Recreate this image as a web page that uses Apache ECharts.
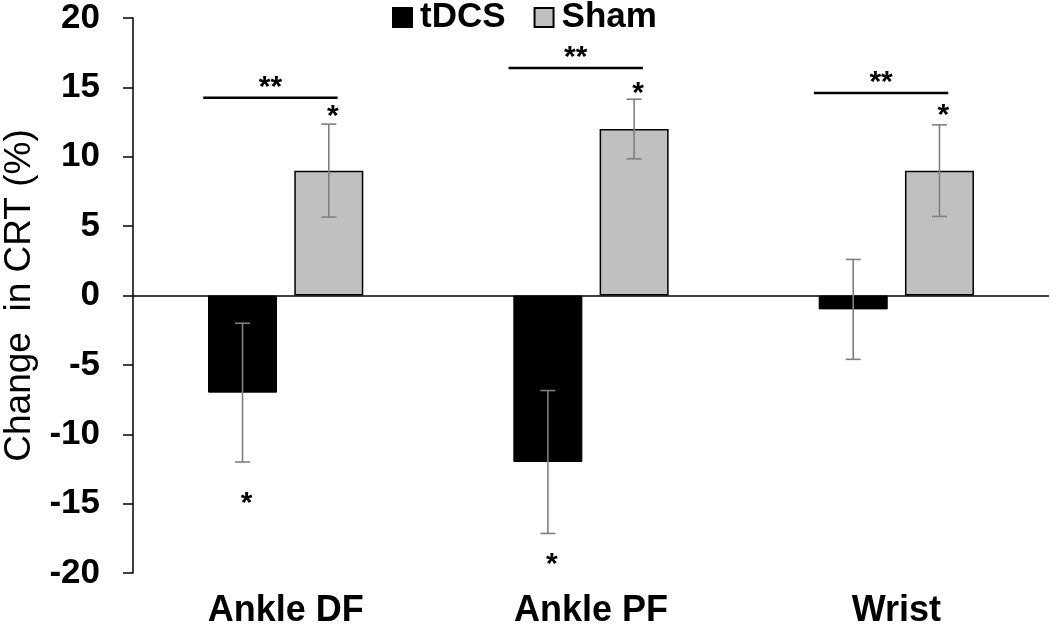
<!DOCTYPE html>
<html>
<head>
<meta charset="utf-8">
<script src="https://cdn.jsdelivr.net/npm/echarts@6/dist/echarts.min.js"></script>
<style>
  html, body { margin: 0; padding: 0; background: #fff; }
  #chart { width: 1050px; height: 631px; }
</style>
</head>
<body>
<div id="chart"></div>
<script>
// values
const categories = ['Ankle DF', 'Ankle PF', 'Wrist']
const tdcsMean = [-7, -12, -1]
const tdcsErr = [5, 5.15, 3.6]
const shamMean = [9, 12, 9]
const shamErr = [3.35, 2.15, 3.3]
// significance marks, in axis units
const pairLevel = [14.25, 16.4, 14.6]      // ** bracket tDCS vs Sham
const shamStarAt = [13.3, 15.0, 13.4]      // * above sham bars
const tdcsStarAt = [-14.6, -19.0, null]    // * below tDCS bars

const FONT = 'Arial, "Liberation Sans", sans-serif'
const BAR_OFFSET = 0.14125 // half of (bar width + gap) as part of the band

const chart = echarts.init(document.getElementById('chart'))

function errorBars(side) {
  return function(params, api) {
    const i = api.value(0)
    const band = api.size([1, 0])[0]
    const hi = api.coord([i, api.value(1) + api.value(2)])
    const lo = api.coord([i, api.value(1) - api.value(2)])
    const x = hi[0] + side * band * BAR_OFFSET
    const cap = 7.5
    const st = { stroke: '#7f7f7f', lineWidth: 1.6 }
    return {
      type: 'group',
      children: [
        { type: 'line', shape: { x1: x, y1: hi[1], x2: x, y2: lo[1] }, style: st },
        { type: 'line', shape: { x1: x - cap, y1: hi[1], x2: x + cap, y2: hi[1] }, style: st },
        { type: 'line', shape: { x1: x - cap, y1: lo[1], x2: x + cap, y2: lo[1] }, style: st }
      ]
    }
  }
}

function brackets(params, api) {
  const i = api.value(0)
  const band = api.size([1, 0])[0]
  const p = api.coord([i, api.value(1)])
  const x1 = p[0] - band * 0.27
  const x2 = p[0] + band * 0.17
  return {
    type: 'group',
    children: [
      { type: 'line', shape: { x1: x1, y1: p[1], x2: x2, y2: p[1] }, style: { stroke: '#000', lineWidth: 2.5 } },
      {
        type: 'text',
        style: { text: '**', x: (x1 + x2) / 2, y: p[1] - 10, align: 'center', verticalAlign: 'middle', font: 'bold 30px ' + FONT, fill: '#000' }
      }
    ]
  }
}

function stars(side) {
  return function(params, api) {
    const i = api.value(0)
    const band = api.size([1, 0])[0]
    const p = api.coord([i, api.value(1)])
    return {
      type: 'text',
      style: { text: '*', x: p[0] + side * band * BAR_OFFSET + 4, y: p[1] + 6, align: 'center', verticalAlign: 'middle', font: 'bold 30px ' + FONT, fill: '#000' }
    }
  }
}

const starData = (arr) => arr.map((v, i) => [i, v]).filter(d => d[1] !== null)

chart.setOption({
  animation: false,
  backgroundColor: '#fff',
  textStyle: { fontFamily: FONT },
  legend: {
    data: ['tDCS', 'Sham'],
    left: 392,
    top: 0,
    padding: 0,
    icon: 'rect',
    itemWidth: 19,
    itemHeight: 19,
    itemGap: 28,
    selectedMode: false,
    textStyle: { fontSize: 35, fontWeight: 'bold', color: '#000', fontFamily: FONT, padding: [0, 0, 0, 3] }
  },
  grid: {
    left: 133,
    right: 1,
    top: 18,
    bottom: 58,
    containLabel: false,
    outerBoundsMode: 'none'
  },
  xAxis: {
    type: 'category',
    data: categories,
    axisLine: { show: false },
    axisTick: { show: false },
    axisLabel: {
      margin: 20,
      color: '#000',
      fontSize: 36,
      fontWeight: 'bold',
      fontFamily: FONT
    }
  },
  yAxis: {
    type: 'value',
    min: -20,
    max: 20,
    interval: 5,
    name: 'Change  in CRT (%)',
    nameLocation: 'middle',
    nameGap: 85,
    nameTextStyle: {
      color: '#000',
      fontSize: 37,
      fontFamily: FONT
    },
    axisLine: { show: true, lineStyle: { color: '#000', width: 1.5 } },
    axisTick: { show: true, length: 10, lineStyle: { color: '#000', width: 1.5 } },
    splitLine: { show: false },
    axisLabel: {
      margin: 33,
      color: '#000',
      fontSize: 35,
      fontWeight: 'bold',
      fontFamily: FONT
    }
  },
  series: [
    {
      name: 'tDCS',
      type: 'bar',
      data: tdcsMean,
      barWidth: '22.6%',
      barGap: '25%',
      itemStyle: { color: '#000', borderColor: '#000', borderWidth: 1 },
      markLine: {
        silent: true,
        symbol: 'none',
        label: { show: false },
        lineStyle: { color: '#000', width: 1.5, type: 'solid' },
        data: [{ yAxis: 0 }]
      }
    },
    {
      name: 'Sham',
      type: 'bar',
      data: shamMean,
      barWidth: '22.6%',
      barGap: '25%',
      itemStyle: { color: '#c0c0c0', borderColor: '#000', borderWidth: 1.5 }
    },
    {
      type: 'custom',
      z: 5,
      renderItem: errorBars(-1),
      data: tdcsMean.map((m, i) => [i, m, tdcsErr[i]])
    },
    {
      type: 'custom',
      z: 5,
      renderItem: errorBars(1),
      data: shamMean.map((m, i) => [i, m, shamErr[i]])
    },
    {
      type: 'custom',
      z: 6,
      renderItem: brackets,
      data: pairLevel.map((v, i) => [i, v])
    },
    {
      type: 'custom',
      z: 6,
      renderItem: stars(1),
      data: starData(shamStarAt)
    },
    {
      type: 'custom',
      z: 6,
      renderItem: stars(-1),
      data: starData(tdcsStarAt)
    }
  ]
})
</script>
</body>
</html>
